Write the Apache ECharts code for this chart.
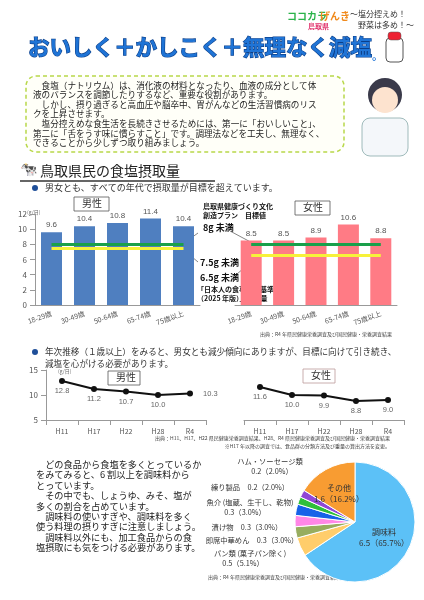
<!DOCTYPE html>
<html><head><meta charset="utf-8">
<script src="https://cdn.jsdelivr.net/npm/echarts@6/dist/echarts.min.js"></script>
<style>html,body{margin:0;padding:0;background:#fff}#c{width:424px;height:600px}</style>
</head><body><div id="c"></div>
<script>
const ageCats = ['18-29歳','30-49歳','50-64歳','65-74歳','75歳以上'];
const maleIntake = [9.6,10.4,10.8,11.4,10.4];
const femaleIntake = [8.5,8.5,8.9,10.6,8.8];
const yearCats = ['H11','H17','H22','H28','R4'];
const maleTrend = [12.8,11.2,10.7,10.0,10.3];
const femaleTrend = [11.6,10.0,9.9,8.8,9.0];
const pieNames = ['調味料','パン類','即席中華めん','漬け物','魚介','練り製品','ハム・ソーセージ類','その他'];
const pieValues = [6.5,0.5,0.3,0.3,0.3,0.2,0.2,1.6];
const pieColors = ['#5cc1f7','#ffcd6b','#97ad5f','#ff86e6','#1662e8','#2fbf3a','#9147d6','#f89c32'];

const F = '"Noto Sans CJK JP", sans-serif';
const chart = echarts.init(document.getElementById('c'));
function txt(x,y,s,o){return Object.assign({type:'text',x:x,y:y,style:Object.assign({text:s,font:'9px '+F,fill:'#333'},o||{})});}
const G = [];
// header
G.push(txt(287,11,'ココカラ',{font:'bold 10px '+F,fill:'#2bb34a'}));
G.push(txt(320,11,'げんき',{font:'bold 10px '+F,fill:'#f08a1c'}));
G.push(txt(308,23,'鳥取県',{font:'bold 7px '+F,fill:'#e0306a'}));
G.push(txt(350,10,'～塩分控えめ！',{font:'8px '+F,fill:'#333'}));
G.push(txt(358,21,'野菜は多め！～',{font:'8px '+F,fill:'#333'}));
G.push(txt(28,36,'おいしく＋かしこく＋無理なく減塩',{font:'bold 21.5px '+F,fill:'#1f74d6',stroke:'#0b3f8a',lineWidth:1.2,shadowColor:'#9ab',shadowOffsetX:2,shadowOffsetY:2}));
G.push(txt(372,50,'。',{font:'bold 11px '+F,fill:'#1f74d6'}));
G.push({type:'rect',shape:{x:386,y:38,width:17,height:24,r:4},style:{fill:'#fff',stroke:'#555',lineWidth:1}});
G.push({type:'rect',shape:{x:388,y:32,width:13,height:8,r:3},style:{fill:'#e23',stroke:'#555',lineWidth:0.5}});
G.push({type:'rect',shape:{x:26,y:76,width:318,height:76,r:10},style:{fill:'#fffff8',stroke:'#b8d84a',lineWidth:1.5,lineDash:[4,3]}});
const intro = ['　食塩（ナトリウム）は、消化液の材料となったり、血液の成分として体','液のバランスを調節したりするなど、重要な役割があります。','　しかし、摂り過ぎると高血圧や脳卒中、胃がんなどの生活習慣病のリス','クを上昇させます。','　塩分控えめな食生活を長続きさせるためには、第一に「おいしいこと」、','第二に「舌をうす味に慣らすこと」です。調理法などを工夫し、無理なく、','できることから少しずつ取り組みましょう。'];
intro.forEach((s,i)=>G.push(txt(33,81+i*9.6,s,{font:'8.6px '+F,fill:'#222'})));
// doctor simple
G.push({type:'circle',shape:{cx:385,cy:95,r:17},style:{fill:'#3a3a4a'}});
G.push({type:'circle',shape:{cx:385,cy:100,r:13},style:{fill:'#fde3cf'}});
G.push({type:'rect',shape:{x:362,y:118,width:46,height:38,r:8},style:{fill:'#f4f7fa',stroke:'#8aa',lineWidth:0.8}});
// section heading
G.push(txt(20,162,'🐄',{font:'14px '+F}));
G.push(txt(40,164,'鳥取県民の食塩摂取量',{font:'14px '+F,fill:'#222'}));
G.push({type:'line',shape:{x1:20,y1:181,x2:215,y2:181},style:{stroke:'#333',lineWidth:1.5}});
G.push({type:'circle',shape:{cx:35,cy:188,r:3},style:{fill:'#1f4f99'}});
G.push(txt(45,183,'男女とも、すべての年代で摂取量が目標を超えています。',{font:'9px '+F}));
// bar chart boxes
G.push({type:'rect',shape:{x:74,y:197,width:35,height:14},style:{fill:'#fff',stroke:'#555',lineWidth:0.8}});
G.push(txt(82,198,'男性',{font:'10px '+F}));
G.push({type:'rect',shape:{x:295,y:201,width:35,height:14},style:{fill:'#fff',stroke:'#555',lineWidth:0.8}});
G.push(txt(303,202,'女性',{font:'10px '+F}));
G.push(txt(27,210,'(g/日)',{font:'5px '+F,fill:'#666'}));
G.push(txt(203,203,'鳥取県健康づくり文化',{font:'bold 7px '+F,fill:'#111'}));
G.push(txt(203,212,'創造プラン　目標値',{font:'bold 7px '+F,fill:'#111'}));
G.push(txt(203,223,'8g 未満',{font:'bold 9px '+F,fill:'#111'}));
G.push({type:'line',shape:{x1:180,y1:246,x2:198,y2:233},style:{stroke:'#333',lineWidth:0.6}});
G.push({type:'line',shape:{x1:230,y1:231,x2:258,y2:246},style:{stroke:'#333',lineWidth:0.6}});
G.push(txt(200,258,'7.5g 未満',{font:'bold 9px '+F,fill:'#111'}));
G.push({type:'line',shape:{x1:185,y1:251,x2:198,y2:262},style:{stroke:'#333',lineWidth:0.6}});
G.push(txt(200,273,'6.5g 未満',{font:'bold 9px '+F,fill:'#111'}));
G.push({type:'line',shape:{x1:237,y1:274,x2:258,y2:256},style:{stroke:'#333',lineWidth:0.6}});
G.push(txt(197,286,'「日本人の食事摂取基準',{font:'bold 7px '+F,fill:'#111'}));
G.push(txt(197,295,'（2025 年版）」目標量',{font:'bold 7px '+F,fill:'#111'}));
G.push(txt(392,332,'出典：R4 年県民健康栄養調査及び国民健康・栄養調査結果',{font:'5px '+F,fill:'#444',align:'right'}));
// line section
G.push({type:'circle',shape:{cx:35,cy:352,r:3},style:{fill:'#1f4f99'}});
G.push(txt(45,347,'年次推移（１歳以上）をみると、男女とも減少傾向にありますが、目標に向けて引き続き、',{font:'8.6px '+F}));
G.push(txt(45,359,'減塩を心がける必要があります。',{font:'8.6px '+F}));
G.push({type:'rect',shape:{x:108,y:371,width:32,height:14},style:{fill:'#fff',stroke:'#555',lineWidth:0.8}});
G.push(txt(116,372,'男性',{font:'10px '+F}));
G.push({type:'rect',shape:{x:303,y:369,width:32,height:14},style:{fill:'#fff',stroke:'#b99',lineWidth:0.8}});
G.push(txt(311,370,'女性',{font:'10px '+F}));
G.push(txt(58,369,'(g/日)',{font:'5px '+F,fill:'#666'}));
G.push(txt(390,436,'出典：H11、H17、H22 県民健康栄養調査結果、H28、R4 県民健康栄養調査及び国民健康・栄養調査結果',{font:'5px '+F,fill:'#444',align:'right'}));
G.push(txt(390,444,'※H17 年以降の調査では、食品群の分類方法及び重量の算出方法を変更。',{font:'5px '+F,fill:'#444',align:'right'}));
// bottom text
const body = ['　どの食品から食塩を多くとっているか','をみてみると、6 割以上を調味料から','とっています。','　その中でも、しょうゆ、みそ、塩が','多くの割合を占めています。','　調味料の使いすぎや、調味料を多く','使う料理の摂りすぎに注意しましょう。','　調味料以外にも、加工食品からの食','塩摂取にも気をつける必要があります。'];
body.forEach((s,i)=>G.push(txt(36,460+i*10.4,s,{font:'9.2px '+F,fill:'#222'})));
G.push(txt(340,575,'出典：R4 年県民健康栄養調査及び国民健康・栄養調査結果',{font:'5px '+F,fill:'#444',align:'right'}));
// pie labels
const pl = [[270,458,'ハム・ソーセージ類'],[272,468,'0.2（2.0%）'],[250,484,'練り製品　0.2（2.0%）'],[250,499,'魚介 (塩蔵、生干し、乾物)'],[245,509,'0.3（3.0%）'],[247,524,'漬け物　0.3（3.0%）'],[252,537,'即席中華めん　0.3（3.0%）'],[250,550,'パン類 (菓子パン除く)'],[243,560,'0.5（5.1%）']];
pl.forEach(p=>G.push(txt(p[0],p[1],p[2],{font:'7.3px '+F,fill:'#333',align:'center'})));

const axLbl = {color:'#555',fontSize:7,fontFamily:F};
function ml(v1,v2){
  return [[v1,'#1aa04a'],[v2,'#f7f23a']].map(a=>[{coord:[0,a[0]],lineStyle:{color:a[1],width:3,type:'solid'}},{coord:[4,a[0]]}]);
}
const opt = {
  animation:false,
  grid:[
    {left:35,top:214,width:165,height:91},
    {left:235,top:214,width:162,height:91},
    {left:46,top:370,width:160,height:50},
    {left:244,top:370,width:160,height:50}
  ],
  xAxis:[
    {gridIndex:0,type:'category',data:ageCats,axisTick:{show:false},axisLine:{lineStyle:{color:'#999'}},axisLabel:Object.assign({rotate:20,interval:0,fontSize:7.5},axLbl)},
    {gridIndex:1,type:'category',data:ageCats,axisTick:{show:false},axisLine:{lineStyle:{color:'#999'}},axisLabel:Object.assign({rotate:20,interval:0,fontSize:7.5},axLbl)},
    {gridIndex:2,type:'category',data:yearCats,axisTick:{show:true,lineStyle:{color:'#999'}},axisLine:{lineStyle:{color:'#999'}},axisLabel:axLbl},
    {gridIndex:3,type:'category',data:yearCats,axisTick:{show:true,lineStyle:{color:'#999'}},axisLine:{lineStyle:{color:'#999'}},axisLabel:axLbl}
  ],
  yAxis:[
    {gridIndex:0,min:0,max:12,interval:2,axisLine:{show:true,lineStyle:{color:'#999'}},axisTick:{show:true},splitLine:{show:false},axisLabel:Object.assign({},axLbl,{fontSize:8})},
    {gridIndex:1,min:0,max:12,interval:2,show:false,splitLine:{show:false}},
    {gridIndex:2,min:5,max:15,interval:5,axisLine:{show:true,lineStyle:{color:'#999'}},axisTick:{show:true},splitLine:{show:false},axisLabel:Object.assign({},axLbl,{fontSize:8})},
    {gridIndex:3,min:5,max:15,interval:5,show:false,splitLine:{show:false}}
  ],
  series:[
    {type:'bar',xAxisIndex:0,yAxisIndex:0,data:maleIntake,barWidth:21,itemStyle:{color:'#4f7fc0'},
     label:{show:true,position:'top',distance:3,color:'#555',fontSize:8,formatter:p=>p.value.toFixed(1)},
     markLine:{symbol:'none',silent:true,label:{show:false},data:ml(8,7.5)}},
    {type:'bar',xAxisIndex:1,yAxisIndex:1,data:femaleIntake,barWidth:21,itemStyle:{color:'#ff7b85'},
     label:{show:true,position:'top',distance:3,color:'#555',fontSize:8,formatter:p=>p.value.toFixed(1)},
     markLine:{symbol:'none',silent:true,label:{show:false},data:ml(8,6.5)}},
    {type:'line',xAxisIndex:2,yAxisIndex:2,data:maleTrend.map((v,i)=>({value:v,label:i===4?{position:'right',distance:10}:{}})),symbol:'circle',symbolSize:6,
     lineStyle:{color:'#111',width:2},itemStyle:{color:'#111'},label:{show:true,position:'bottom',distance:3,color:'#666',fontSize:7.5,formatter:p=>p.value.toFixed(1)}},
    {type:'line',xAxisIndex:3,yAxisIndex:3,data:femaleTrend,symbol:'circle',symbolSize:6,
     lineStyle:{color:'#111',width:2},itemStyle:{color:'#111'},label:{show:true,position:'bottom',distance:3,color:'#666',fontSize:7.5,formatter:p=>p.value.toFixed(1)}},
    {type:'pie',center:[355,522],radius:[0,60],startAngle:90,clockwise:true,
     data:pieNames.map((n,i)=>({name:n,value:pieValues[i],itemStyle:{color:pieColors[i]},
       label:(i===0||i===7)?{show:true}:{show:false}})),
     itemStyle:{borderColor:'#fff',borderWidth:1},labelLine:{show:false},
     label:{position:'inside',color:'#333',fontSize:8,fontFamily:F,lineHeight:11,
       formatter:p=>p.name+'\n'+p.value+'（'+p.percent.toFixed(1)+'%）'}}
  ],
  graphic:G
};
chart.setOption(opt);
</script></body></html>
